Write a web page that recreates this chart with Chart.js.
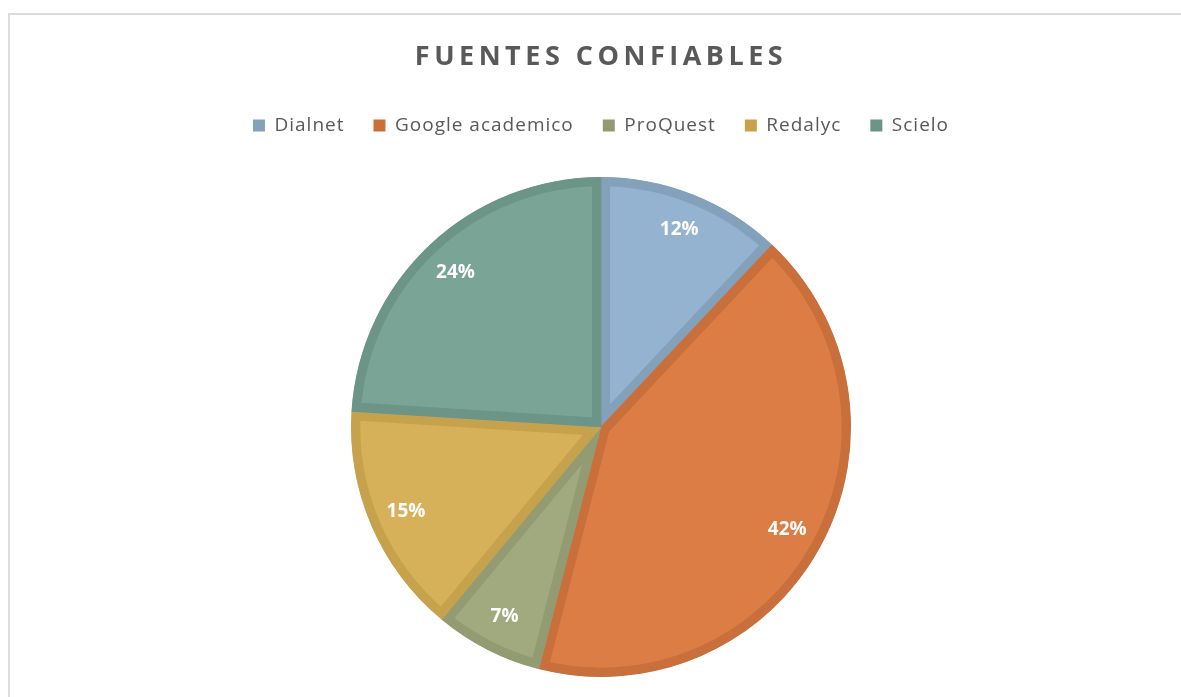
<!DOCTYPE html>
<html>
<head>
<meta charset="utf-8">
<script src="https://cdn.jsdelivr.net/npm/chart.js@4/dist/chart.umd.min.js"></script>
<style>
  html, body { margin: 0; padding: 0; background: #fff; overflow: hidden; }
  #frame { position: absolute; left: 8px; top: 13px; width: 1200px; height: 720px; border: 2px solid #dcdcdc; box-sizing: border-box; }
  #chart { position: absolute; left: 0; top: 0; }
</style>
</head>
<body>
<div id="frame"></div>
<canvas id="chart" width="1181" height="697"></canvas>
<script>
const titleText = 'FUENTES CONFIABLES';
const categories = ['Dialnet', 'Google academico', 'ProQuest', 'Redalyc', 'Scielo'];
const percentValues = [12, 42, 7, 15, 24];
const fillColors = ['#93b3d1', '#db7d45', '#a1a97f', '#d7b159', '#79a496'];
const edgeColors = ['#84a1bc', '#c96f3b', '#939b72', '#c6a24d', '#6c9487'];

document.addEventListener('DOMContentLoaded', function() {
    const ctx = document.getElementById('chart').getContext('2d');

    // wrap a box method so its text is drawn with some letter spacing
    function spaced(box, method, sp) {
        const orig = box[method];
        box[method] = function() {
            const c = this.ctx;
            const prev = c.letterSpacing;
            c.letterSpacing = sp;
            const res = orig.apply(this, arguments);
            c.letterSpacing = prev;
            return res;
        };
    }

    const textTweaks = {
        id: 'textTweaks',
        beforeInit(chart) {
            spaced(chart.titleBlock, 'draw', '4.5px');
            spaced(chart.legend, 'fit', '1px');
            spaced(chart.legend, 'draw', '1px');
            // extra space under the legend
            const fit = chart.legend.fit;
            chart.legend.fit = function() {
                fit.call(this);
                this.height += 12;
            };
        }
    };

    // percentage labels inside slices
    const sliceLabels = {
        id: 'sliceLabels',
        afterDatasetsDraw(chart) {
            const meta = chart.getDatasetMeta(0);
            const values = chart.data.datasets[0].data;
            const total = values.reduce((a, b) => a + b, 0);
            const c = chart.ctx;
            c.save();
            c.letterSpacing = '0px';
            c.font = 'bold 19px "Open Sans"';
            c.fillStyle = '#ffffff';
            c.textAlign = 'center';
            c.textBaseline = 'middle';
            meta.data.forEach(function(arc, i) {
                const p = arc.getProps(['x', 'y', 'startAngle', 'endAngle', 'outerRadius'], true);
                const mid = (p.startAngle + p.endAngle) / 2;
                const r = p.outerRadius * 0.85;
                const pct = Math.round(values[i] / total * 100) + '%';
                c.fillText(pct, p.x + Math.cos(mid) * r, p.y + Math.sin(mid) * r);
            });
            c.restore();
        }
    };

    new Chart(ctx, {
        type: 'pie',
        data: {
            labels: categories,
            datasets: [{
                data: percentValues,
                backgroundColor: fillColors,
                borderColor: edgeColors,
                borderWidth: 9,
                borderAlign: 'inner',
                radius: 250
            }]
        },
        options: {
            responsive: false,
            animation: false,
            events: [],
            layout: { padding: { left: 21, right: 0, top: 0, bottom: 0 } },
            plugins: {
                title: {
                    display: true,
                    text: titleText,
                    color: '#595959',
                    font: { family: '"Open Sans"', size: 27, weight: 'bold', lineHeight: 1.2 },
                    padding: { top: 40.8, bottom: 13.8 }
                },
                legend: {
                    position: 'top',
                    labels: {
                        color: '#595959',
                        font: { family: '"Open Sans"', size: 19 },
                        boxWidth: 12,
                        boxHeight: 12,
                        padding: 29,
                        generateLabels(chart) {
                            const items = Chart.overrides.pie.plugins.legend.labels.generateLabels(chart);
                            return items.map(function(it, i) {
                                it.fillStyle = edgeColors[i];
                                it.strokeStyle = edgeColors[i];
                                it.lineWidth = 0;
                                return it;
                            });
                        }
                    }
                },
                tooltip: { enabled: false }
            }
        },
        plugins: [textTweaks, sliceLabels]
    });
});
</script>
</body>
</html>
